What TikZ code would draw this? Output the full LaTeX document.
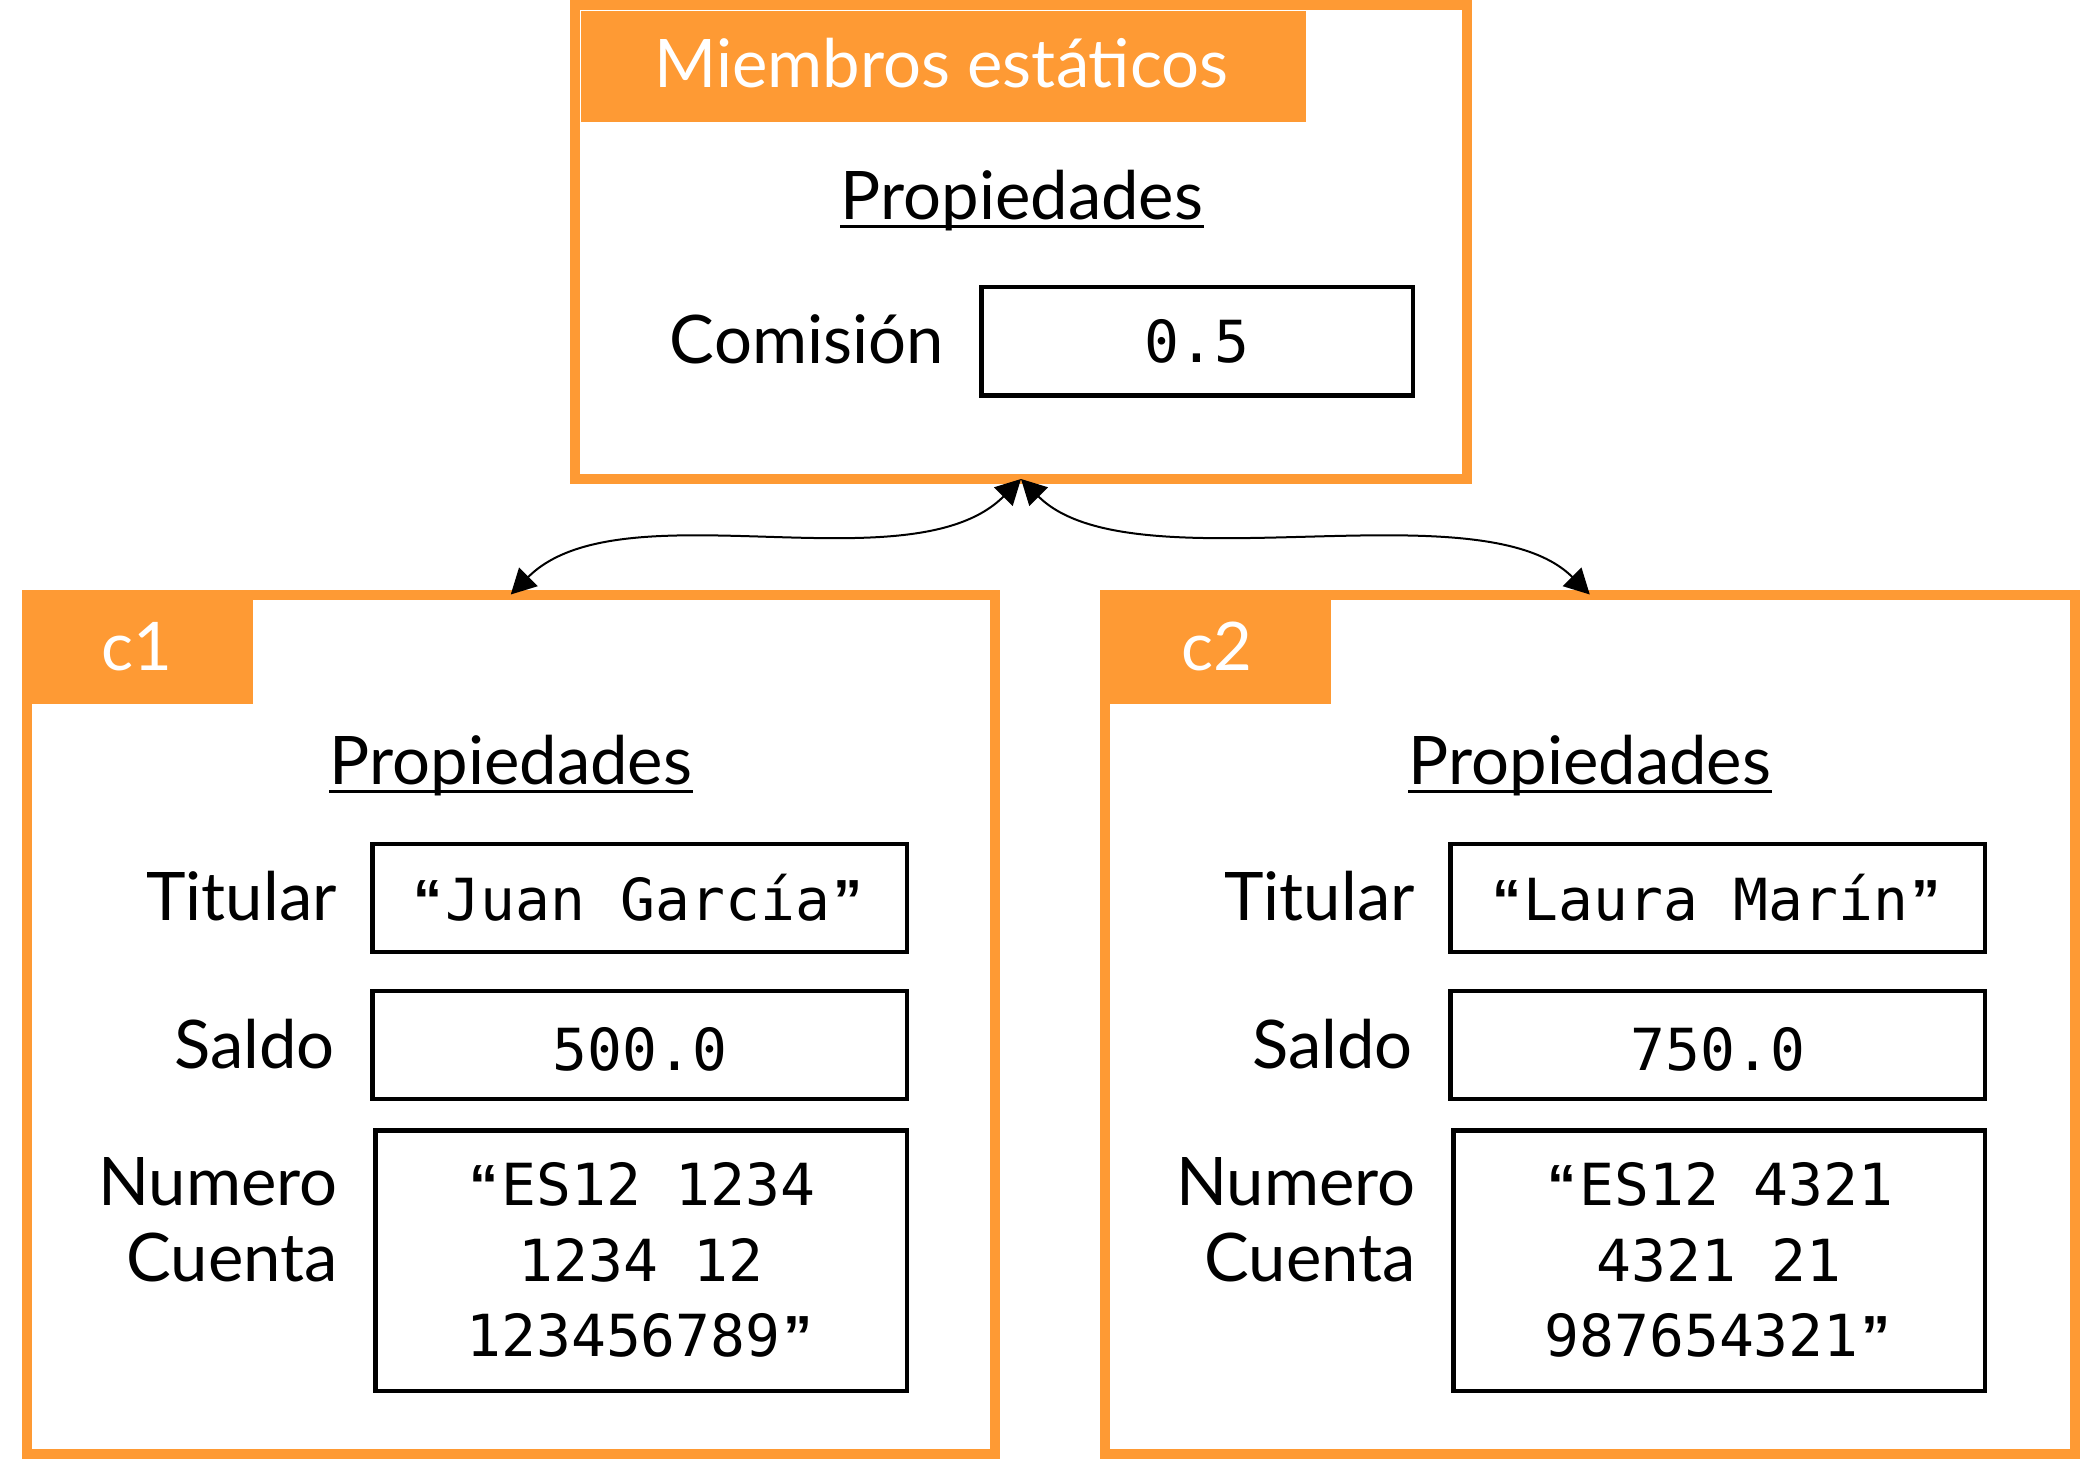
\documentclass[tikz,border=0pt]{standalone}
\usepackage{fontspec}
\setmainfont{Lato}
\newfontfamily\monofont{DejaVu Sans Mono}
\newfontfamily\qfont{Liberation Sans}
\usetikzlibrary{arrows.meta}
\definecolor{orng}{RGB}{254,154,52}
\newcommand{\lblfont}{\fontsize{33.5pt}{38pt}\selectfont}
\newcommand{\valfont}{\monofont\fontsize{29pt}{38pt}\selectfont}
\newcommand{\oq}{\makebox[0.602em][c]{\qfont\bfseries “}}
\newcommand{\cq}{\makebox[0.602em][c]{\qfont\bfseries ”}}
\tikzset{
  bigbox/.style={draw=orng, line width=5pt, inner sep=0pt, outer sep=0pt},
  tabbox/.style={fill=orng, inner sep=0pt, outer sep=0pt},
  valbox/.style={draw=black, line width=2.25pt, inner sep=0pt, outer sep=0pt},
  lbl/.style={font=\lblfont, inner sep=0pt, anchor=base east},
  ctxt/.style={font=\lblfont, inner sep=0pt, anchor=base},
  ttl/.style={font=\lblfont, text=white, inner sep=0pt, anchor=base},
  val/.style={font=\valfont, inner sep=0pt, anchor=base},
  uline/.style={line width=1.5pt},
  conn/.style={{Triangle[length=12.5pt,width=13pt]}-{Triangle[length=12.5pt,width=13pt]}, line width=1pt},
}
\begin{document}
\begin{tikzpicture}[x=0.5pt,y=-0.5pt]
\useasboundingbox (0,0) rectangle (2080,1459);
% top box
\node[bigbox, minimum width=446pt, minimum height=237pt] (top) at (1021,242) {};
\node[tabbox, minimum width=362.75pt, minimum height=55.5pt] (toptab) at (943.25,66.5) {};
\node[ttl] (toptitle) at (941.5,88) {Miembros estáticos};
\node[ctxt] (topprop) at (1022,220) {Propiedades};
\draw[uline] ([yshift=-3.25pt]topprop.base west) -- ([yshift=-3.25pt]topprop.base east);
\node[lbl] (comlbl) at (944,363.5) {Comisión};
\node[valbox, minimum width=215.75pt, minimum height=54.25pt] (combox) at (1197,341.5) {};
\node[val] (comval) at (1197,363) {0.5};
% c1
\node[bigbox, minimum width=484.25pt, minimum height=429.75pt] (c1) at (510.75,1024.25) {};
\node[tabbox, minimum width=110.5pt, minimum height=52pt] (c1tab) at (142.5,652) {};
\node[ttl] (c1title) at (137,670) {c1};
\node[ctxt] (c1prop) at (511,784.6) {Propiedades};
\draw[uline] ([yshift=-3.25pt]c1prop.base west) -- ([yshift=-3.25pt]c1prop.base east);
\node[lbl] (c1titlbl) at (337,920) {Titular};
\node[valbox, minimum width=267.25pt, minimum height=54pt] (c1titbox) at (639.5,898) {};
\node[val] (c1titval) at (638,920) {\oq Juan García\cq};
\node[lbl] (c1sallbl) at (335,1068) {Saldo};
\node[valbox, minimum width=267.25pt, minimum height=54pt] (c1salbox) at (639.5,1045) {};
\node[val] (c1salval) at (640,1070) {500.0};
\node[lbl] (c1numlbla) at (338,1205) {Numero};
\node[lbl] (c1numlblb) at (338,1281) {Cuenta};
\node[valbox, minimum width=265.75pt, minimum height=130.25pt] (c1numbox) at (641,1260.5) {};
\node[val] (c1numa) at (641,1205) {\oq ES12 1234};
\node[val] (c1numb) at (641,1281) {1234 12};
\node[val] (c1numc) at (641,1356) {123456789\cq};
% c2
\node[bigbox, minimum width=485.25pt, minimum height=429.75pt] (c2) at (1589.75,1024.25) {};
\node[tabbox, minimum width=110.5pt, minimum height=52pt] (c2tab) at (1220.5,652) {};
\node[ttl] (c2title) at (1217,670) {c2};
\node[ctxt] (c2prop) at (1590,784.6) {Propiedades};
\draw[uline] ([yshift=-3.25pt]c2prop.base west) -- ([yshift=-3.25pt]c2prop.base east);
\node[lbl] (c2titlbl) at (1415,920) {Titular};
\node[valbox, minimum width=267.25pt, minimum height=54pt] (c2titbox) at (1717.5,898) {};
\node[val] (c2titval) at (1716,920) {\oq Laura Marín\cq};
\node[lbl] (c2sallbl) at (1413,1068) {Saldo};
\node[valbox, minimum width=267.25pt, minimum height=54pt] (c2salbox) at (1717.5,1045) {};
\node[val] (c2salval) at (1718,1070) {750.0};
\node[lbl] (c2numlbla) at (1416,1205) {Numero};
\node[lbl] (c2numlblb) at (1416,1281) {Cuenta};
\node[valbox, minimum width=265.75pt, minimum height=130.25pt] (c2numbox) at (1719,1260.5) {};
\node[val] (c2numa) at (1719,1205) {\oq ES12 4321};
\node[val] (c2numb) at (1719,1281) {4321 21};
\node[val] (c2numc) at (1719,1356) {987654321\cq};
% connectors
\draw[conn] (top.south) .. controls +(-110,110) and +(110,-110) .. (c1.north);
\draw[conn] (top.south) .. controls +(110,110) and +(-110,-110) .. (c2.north);
\end{tikzpicture}
\end{document}
